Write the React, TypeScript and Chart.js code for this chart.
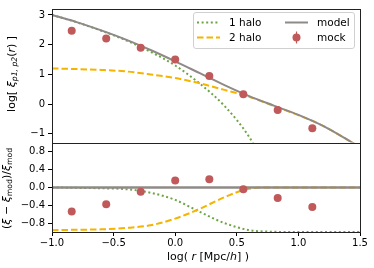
import React, { useEffect, useRef } from 'react';
import { Chart, registerables } from 'chart.js';

Chart.register(...registerables);

// ---- data ----
const mockLogR = [-0.84, -0.56, -0.28, 0.0, 0.277, 0.553, 0.832, 1.113];
const mockXi = [2.47, 2.21, 1.9, 1.5, 0.95, 0.33, -0.2, -0.81];
const mockRes = [-0.54, -0.38, -0.1, 0.155, 0.18, -0.04, -0.24, -0.44];

const curveLogR = [-1.0, -0.8, -0.6, -0.4, -0.2, 0.0, 0.2, 0.4, 0.6, 0.8, 1.0, 1.2, 1.4, 1.5];
const modelXi = [3.0, 2.76, 2.48, 2.17, 1.82, 1.44, 1.04, 0.64, 0.27, -0.05, -0.36, -0.73, -1.2, -1.45];
const oneHaloXi = [3.0, 2.755, 2.47, 2.15, 1.76, 1.3, 0.69, -0.06, -1.1, -2.6, null, null, null, null];
const twoHaloXi = [1.2, 1.18, 1.15, 1.1, 1.0, 0.88, 0.7, 0.48, 0.25, -0.06, -0.37, -0.73, -1.2, -1.45];

const modelRes = [0, 0, 0, 0, 0, 0, 0, 0, 0, 0, 0, 0, 0, 0];
const oneHaloRes = [0, -0.01, -0.02, -0.04, -0.12, -0.28, -0.55, -0.8, -0.957, -0.995, -1.0, -1.0, -1.0, -1.0];
const twoHaloRes = [-0.96, -0.95, -0.94, -0.91, -0.85, -0.7, -0.48, -0.22, -0.03, 0, 0, 0, 0, 0];

const xTicks = [-1.0, -0.5, 0.0, 0.5, 1.0, 1.5];
const xTickLabels = ['−1.0', '−0.5', '0.0', '0.5', '1.0', '1.5'];
const topTicks = [-1, 0, 1, 2, 3];
const topTickLabels = ['−1', '0', '1', '2', '3'];
const botTicks = [-0.8, -0.4, 0.0, 0.4, 0.8];
const botTickLabels = ['−0.8', '−0.4', '0.0', '0.4', '0.8'];

const legendLabels = ['1 halo', '2 halo', 'model', 'mock'];

// ---- styles ----
const GREEN = '#6ea445';
const YELLOW = '#f5b400';
const GRAY = '#8f8a87';
const MOCK = '#c05a5a';
const FONT = '"DejaVu Sans", sans-serif';
const DOT = [2, 2.6];
const DASH = [6.5, 3];

const pts = (xs: number[], ys: (number | null)[]) =>
  xs.map((x, i) => ({ x, y: ys[i] })).filter((p) => p.y !== null) as { x: number; y: number }[];

type Part = { t: string; it?: boolean; sub?: boolean };

function drawRich(ctx: CanvasRenderingContext2D, parts: Part[], size: number, cx: number, cy: number, rot: boolean) {
  const fontOf = (p: Part) => `${p.it ? 'italic ' : ''}${p.sub ? size * 0.7 : size}px ${FONT}`;
  let w = 0;
  for (const p of parts) {
    ctx.font = fontOf(p);
    w += ctx.measureText(p.t).width;
  }
  ctx.save();
  ctx.translate(cx, cy);
  if (rot) ctx.rotate(-Math.PI / 2);
  ctx.textBaseline = 'alphabetic';
  ctx.textAlign = 'left';
  ctx.fillStyle = '#000';
  let x = -w / 2;
  const base = size * 0.36;
  for (const p of parts) {
    ctx.font = fontOf(p);
    ctx.fillText(p.t, x, p.sub ? base + size * 0.22 : base);
    x += ctx.measureText(p.t).width;
  }
  ctx.restore();
}

const fmt = (vals: number[], labels: string[]) => (v: number) => {
  let best = 0;
  for (let i = 0; i < vals.length; i++) if (Math.abs(vals[i] - v) < Math.abs(vals[best] - v)) best = i;
  return labels[best];
};

const panelPlugin = {
  id: 'panels',
  beforeDatasetDraw(chart: any, args: any) {
    const ys = chart.scales[args.meta.yAxisID];
    const xs = chart.scales.x;
    const ctx = chart.ctx;
    ctx.save();
    ctx.beginPath();
    ctx.rect(xs.left, ys.top, xs.right - xs.left, ys.bottom - ys.top);
    ctx.clip();
  },
  afterDatasetDraw(chart: any) {
    chart.ctx.restore();
  },
  afterDraw(chart: any) {
    const ctx: CanvasRenderingContext2D = chart.ctx;
    const xs = chart.scales.x;
    const yt = chart.scales.yTop;
    const yb = chart.scales.yBot;
    // frames
    ctx.save();
    ctx.strokeStyle = '#222';
    ctx.lineWidth = 1;
    ctx.strokeRect(Math.round(xs.left) + 0.5, Math.round(yt.top) + 0.5, Math.round(xs.right - xs.left), Math.round(yt.bottom - yt.top));
    ctx.strokeRect(Math.round(xs.left) + 0.5, Math.round(yb.top) + 0.5, Math.round(xs.right - xs.left), Math.round(yb.bottom - yb.top));
    ctx.restore();

    // axis titles
    drawRich(ctx, [
      { t: 'log[ ' }, { t: 'ξ', it: true }, { t: 'p1, p2', it: true, sub: true },
      { t: '(' }, { t: 'r', it: true }, { t: ')' }, { t: ' ]' },
    ], 11, 11, (yt.top + yt.bottom) / 2 - 2, true);
    drawRich(ctx, [
      { t: '(' }, { t: 'ξ', it: true }, { t: ' − ' }, { t: 'ξ', it: true }, { t: 'mod', sub: true },
      { t: ')/' }, { t: 'ξ', it: true }, { t: 'mod', sub: true },
    ], 11, 6, (yb.top + yb.bottom) / 2 + 1, true);
    drawRich(ctx, [
      { t: 'log( ' }, { t: 'r', it: true }, { t: ' [Mpc/' }, { t: 'h', it: true }, { t: '] )' },
    ], 11, (xs.left + xs.right) / 2 + 2, 256, false);

    // legend
    const lx = 193, ly = 12, lw = 161, lh = 36;
    ctx.save();
    ctx.beginPath();
    (ctx as any).roundRect(lx + 0.5, ly + 0.5, lw, lh, 2.5);
    ctx.fillStyle = 'rgba(255,255,255,0.8)';
    ctx.fill();
    ctx.strokeStyle = '#d0d0d0';
    ctx.lineWidth = 1;
    ctx.stroke();

    const rows = [22.5, 37.5];
    const c1 = [197, 220, 229];
    const c2 = [285, 308, 317];
    const line = (x0: number, x1: number, y: number, color: string, dash: number[], w: number) => {
      ctx.beginPath();
      ctx.setLineDash(dash);
      ctx.strokeStyle = color;
      ctx.lineWidth = w;
      ctx.moveTo(x0, y);
      ctx.lineTo(x1, y);
      ctx.stroke();
      ctx.setLineDash([]);
    };
    line(c1[0], c1[1], rows[0], GREEN, DOT, 2);
    line(c1[0], c1[1], rows[1], YELLOW, DASH, 2);
    line(c2[0], c2[1], rows[0], GRAY, [], 2);
    const mx = (c2[0] + c2[1]) / 2;
    ctx.beginPath();
    ctx.strokeStyle = MOCK;
    ctx.lineWidth = 1.2;
    ctx.moveTo(mx, rows[1] - 6);
    ctx.lineTo(mx, rows[1] + 6);
    ctx.stroke();
    ctx.beginPath();
    ctx.fillStyle = MOCK;
    ctx.arc(mx, rows[1], 4, 0, Math.PI * 2);
    ctx.fill();

    ctx.fillStyle = '#000';
    ctx.font = `10.5px ${FONT}`;
    ctx.textBaseline = 'middle';
    ctx.textAlign = 'left';
    ctx.fillText(legendLabels[0], c1[2], rows[0] + 0.5);
    ctx.fillText(legendLabels[1], c1[2], rows[1] + 0.5);
    ctx.fillText(legendLabels[2], c2[2], rows[0] + 0.5);
    ctx.fillText(legendLabels[3], c2[2], rows[1] + 0.5);
    ctx.restore();
  },
};

export default function App() {
  const ref = useRef<HTMLCanvasElement | null>(null);
  useEffect(() => {
    if (!ref.current) return;
    const lineDs = (label: string, data: any, axis: string, color: string, dash: number[], width: number, order: number) => ({
      label,
      data,
      yAxisID: axis,
      borderColor: color,
      backgroundColor: color,
      borderWidth: width,
      borderDash: dash,
      borderCapStyle: 'butt',
      pointRadius: 0,
      fill: false,
      tension: 0,
      cubicInterpolationMode: 'monotone',
      order,
    });
    const mockDs = (data: any, axis: string) => ({
      label: legendLabels[3],
      data,
      yAxisID: axis,
      showLine: false,
      pointRadius: 4,
      pointBorderWidth: 0,
      pointBackgroundColor: MOCK,
      backgroundColor: MOCK,
      borderColor: MOCK,
      order: 0,
    });
    const tickFont = { family: FONT, size: 10 };
    const chart = new Chart(ref.current, {
      type: 'line',
      data: {
        datasets: [
          mockDs(pts(mockLogR, mockXi), 'yTop'),
          mockDs(pts(mockLogR, mockRes), 'yBot'),
          lineDs(legendLabels[2], pts(curveLogR, modelXi), 'yTop', GRAY, [], 2, 1),
          lineDs(legendLabels[2], pts(curveLogR, modelRes), 'yBot', GRAY, [], 2.5, 1),
          lineDs(legendLabels[1], pts(curveLogR, twoHaloXi), 'yTop', YELLOW, DASH, 2, 2),
          lineDs(legendLabels[1], pts(curveLogR, twoHaloRes), 'yBot', YELLOW, DASH, 2, 2),
          lineDs(legendLabels[0], pts(curveLogR, oneHaloXi), 'yTop', GREEN, DOT, 2, 3),
          lineDs(legendLabels[0], pts(curveLogR, oneHaloRes), 'yBot', GREEN, DOT, 2, 3),
        ] as any,
      },
      options: {
        animation: false,
        responsive: false,
        devicePixelRatio: 1,
        layout: { padding: { left: 0, right: 14, top: 7, bottom: 0 } },
        plugins: { legend: { display: false }, tooltip: { enabled: false } },
        scales: {
          x: {
            type: 'linear',
            min: -1,
            max: 1.5,
            afterBuildTicks: (s: any) => { s.ticks = xTicks.map((v) => ({ value: v })); },
            afterFit: (s: any) => { s.height = 36; },
            ticks: { callback: fmt(xTicks, xTickLabels) as any, font: tickFont, color: '#000', padding: 1, maxRotation: 0, autoSkip: false },
            grid: { drawOnChartArea: false, drawTicks: true, tickLength: 4, color: '#000' },
            border: { display: false },
          },
          yBot: {
            type: 'linear',
            position: 'left',
            stack: 'panels',
            stackWeight: 2,
            min: -1,
            max: 1,
            afterBuildTicks: (s: any) => { s.ticks = botTicks.map((v) => ({ value: v })); },
            afterFit: (s: any) => { s.width = 52; },
            ticks: { callback: fmt(botTicks, botTickLabels) as any, font: tickFont, color: '#000', padding: 3, autoSkip: false },
            grid: { drawOnChartArea: false, drawTicks: true, tickLength: 4, color: '#000' },
            border: { display: false },
          },
          yTop: {
            type: 'linear',
            position: 'left',
            stack: 'panels',
            stackWeight: 3,
            min: -1.3,
            max: 3.2,
            afterBuildTicks: (s: any) => { s.ticks = topTicks.map((v) => ({ value: v })); },
            afterFit: (s: any) => { s.width = 52; },
            ticks: { callback: fmt(topTicks, topTickLabels) as any, font: tickFont, color: '#000', padding: 3, autoSkip: false },
            grid: { drawOnChartArea: false, drawTicks: true, tickLength: 4, color: '#000' },
            border: { display: false },
          },
        },
      } as any,
      plugins: [panelPlugin as any],
    });
    return () => chart.destroy();
  }, []);
  return (
    <div style={{ position: 'fixed', left: 0, top: 0, width: 374, height: 268, background: '#fff' }}>
      <canvas ref={ref} width={374} height={268} style={{ display: 'block', width: 374, height: 268 }} />
    </div>
  );
}
